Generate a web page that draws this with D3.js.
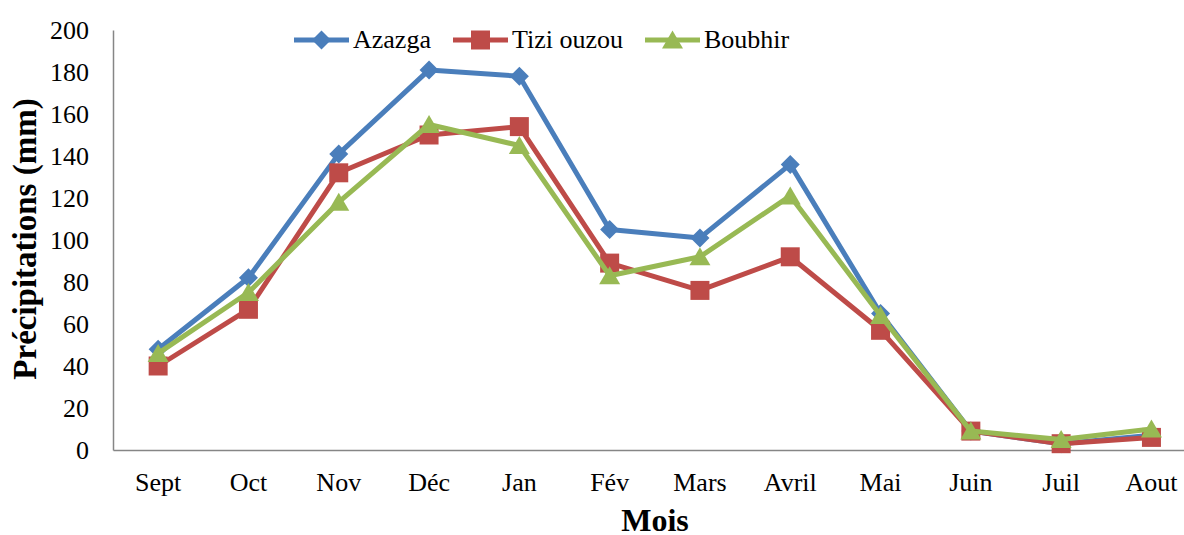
<!DOCTYPE html>
<html><head><meta charset="utf-8">
<script src="https://cdn.jsdelivr.net/npm/d3@7"></script>
<style>body{margin:0;background:#fff}svg{display:block}text{font-family:"Liberation Serif","Times New Roman",serif}</style>
</head><body><svg id="c" width="1184" height="535"></svg>
<script>
const months = ["Sept","Oct","Nov","Déc","Jan","Fév","Mars","Avril","Mai","Juin","Juil","Aout"];
const azazga = [48,82,141,181,178,105,101,136,65,9,3,7];
const tiziOuzou = [40,67,132,150,154,89,76,92,57,9,3,6];
const boubhir = [46,75,118,155,145,83,92,121,64,9,5,10];
const yTicks = [0,20,40,60,80,100,120,140,160,180,200];
const seriesNames = ["Azazga","Tizi ouzou","Boubhir"];

(function(){
const svg = d3.select("#c");
const font = "Liberation Serif";
const pLeft = 113, pRight = 1196.6, pTop = 30, pBottom = 450;
const x = d3.scaleBand().domain(months).range([pLeft, pRight]);
const y = d3.scaleLinear().domain([0,200]).range([pBottom, pTop]);

const diamond = {draw(ctx, r){ ctx.moveTo(0,-r); ctx.lineTo(r,0); ctx.lineTo(0,r); ctx.lineTo(-r,0); ctx.closePath(); }};
const square = {draw(ctx, r){ ctx.rect(-r,-r,2*r,2*r); }};
const triangle = {draw(ctx, r){ ctx.moveTo(0,-r*0.95); ctx.lineTo(r*1.05,r*0.85); ctx.lineTo(-r*1.05,r*0.85); ctx.closePath(); }};

const series = [
  {name: seriesNames[0], vals: azazga, color: "#4a7ebb", sym: diamond, size: 9.5},
  {name: seriesNames[1], vals: tiziOuzou, color: "#be4b48", sym: square, size: 9.5},
  {name: seriesNames[2], vals: boubhir, color: "#98b954", sym: triangle, size: 10}
];

const ya = svg.append("g").attr("transform", `translate(${pLeft},0)`)
  .call(d3.axisLeft(y).tickValues(yTicks).tickSize(0).tickPadding(24));
ya.attr("font-family", font).attr("font-size", 26);
ya.select(".domain").attr("stroke", "#868686").attr("stroke-width", 1.5);
ya.selectAll("text").attr("fill", "#000");

const xa = svg.append("g").attr("transform", `translate(0,${pBottom})`)
  .call(d3.axisBottom(x).tickSize(0).tickPadding(23));
xa.attr("font-family", font).attr("font-size", 26);
xa.select(".domain").attr("stroke", "#868686").attr("stroke-width", 1.5);
xa.selectAll("text").attr("fill", "#000");

svg.append("text").attr("x", 655).attr("y", 531).attr("text-anchor", "middle")
  .attr("font-size", 32).attr("font-weight", "bold").text("Mois");
svg.append("text").attr("transform", "translate(36,239) rotate(-90)").attr("text-anchor", "middle")
  .attr("font-size", 33).attr("font-weight", "bold").text("Précipitations (mm)");

const line = d3.line().x((d,i) => x(months[i]) + x.bandwidth()/2).y(d => y(d));
series.forEach(s => {
  svg.append("path").datum(s.vals).attr("d", line).attr("fill", "none")
    .attr("stroke", s.color).attr("stroke-width", 5).attr("stroke-linejoin", "round");
  svg.selectAll(null).data(s.vals).enter().append("path")
    .attr("d", d3.symbol().type(s.sym).size(s.size))
    .attr("transform", (d,i) => `translate(${x(months[i]) + x.bandwidth()/2},${y(d)})`)
    .attr("fill", s.color);
});

const legX = [294, 453, 645];
series.forEach((s, i) => {
  const g = svg.append("g").attr("transform", `translate(${legX[i]},40)`);
  g.append("line").attr("x1", 0).attr("x2", 55).attr("stroke", s.color).attr("stroke-width", 5);
  g.append("path").attr("d", d3.symbol().type(s.sym).size(s.size)).attr("transform", "translate(27.5,0)").attr("fill", s.color);
  g.append("text").attr("x", 59).attr("y", 8).attr("font-size", 26).text(s.name);
});
})();
</script></body></html>
